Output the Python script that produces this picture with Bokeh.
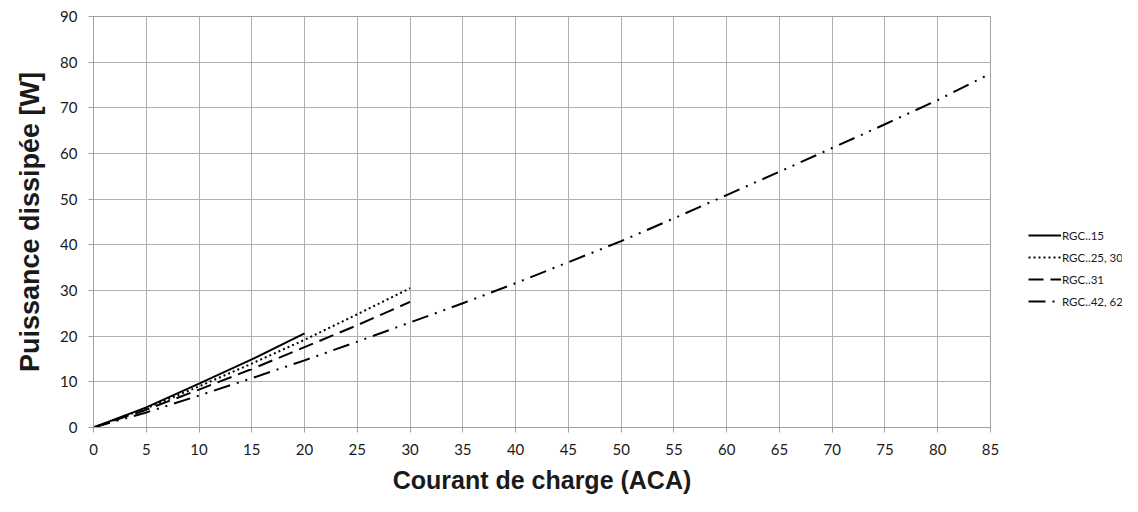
from bokeh.plotting import figure
from bokeh.layouts import row
from bokeh.models import Legend, LegendItem, Range1d, FixedTicker
from bokeh.embed import file_html
from bokeh.resources import INLINE

# Data
x_15 = [0, 5, 10, 15, 20]
y_15 = [0, 4.4, 9.6, 14.9, 20.6]
x_25 = [0, 5, 10, 15, 20, 25, 30]
y_25 = [0, 4.2, 9.0, 14.0, 19.2, 24.8, 30.5]
x_31 = [0, 5, 10, 15, 20, 25, 30]
y_31 = [0, 3.9, 8.3, 12.8, 17.6, 22.4, 27.5]
x_42 = [0, 5, 10, 15, 20, 25, 30, 35, 40, 45, 50, 55, 60, 65, 70, 75, 80, 85]
y_42 = [0, 3.3, 7.0, 10.8, 14.7, 18.8, 23.0, 27.2, 31.6, 36.2, 40.8, 45.8, 50.9, 56.0, 61.2, 66.4, 71.7, 77.5]
labels = ["RGC..15", "RGC..25, 30", "RGC..31", "RGC..42, 62"]
x_ticks = list(range(0, 90, 5))
y_ticks = list(range(0, 100, 10))

styles = [dict(line_color="black", line_width=2),
          dict(line_color="black", line_width=2, line_dash="2 3"),
          dict(line_color="black", line_width=2, line_dash="15 7"),
          dict(line_color="black", line_width=2, line_dash="17 7 2 7 2 7")]

p = figure(width=1000, height=496, output_backend="svg", toolbar_location=None,
           x_range=Range1d(0, 85), y_range=Range1d(0, 90),
           min_border_left=93, min_border_right=10, min_border_top=16, min_border_bottom=61)

p.outline_line_color = "#a0a0a0"
p.outline_line_width = 1
for ax in (p.xaxis[0], p.yaxis[0]):
    ax.axis_line_color = "#a0a0a0"
    ax.major_tick_line_color = "#a0a0a0"
    ax.major_tick_out = 5
    ax.major_tick_in = 0
    ax.minor_tick_line_color = None
    ax.major_label_text_font = "Lato"
    ax.major_label_text_font_size = "15px"
    ax.major_label_text_color = "#1a1a1a"
    ax.axis_label_text_font = "Liberation Sans"
    ax.axis_label_text_font_style = "bold"
    ax.axis_label_text_color = "#1a1a1a"

p.xaxis.ticker = FixedTicker(ticks=x_ticks)
p.yaxis.ticker = FixedTicker(ticks=y_ticks)
p.xaxis.axis_label = "Courant de charge (ACA)"
p.yaxis.axis_label = "Puissance dissipée [W]"
p.xaxis.axis_label_text_font_size = "25px"
p.yaxis.axis_label_text_font_size = "27px"
p.xaxis.axis_label_standoff = 8
p.yaxis.axis_label_standoff = 12
p.xaxis.major_label_standoff = 11
p.yaxis.major_label_standoff = 11

p.xgrid.ticker = FixedTicker(ticks=x_ticks)
p.ygrid.ticker = FixedTicker(ticks=y_ticks)
p.xgrid.grid_line_color = "#b0b0b0"
p.ygrid.grid_line_color = "#b0b0b0"

p.line(x_15, y_15, **styles[0])
p.line(x_25, y_25, **styles[1])
p.line(x_31, y_31, **styles[2])
p.line(x_42, y_42, **styles[3])

# Legend panel (to the right of the plot frame); its renderers hold no visible data
pl = figure(width=122, height=496, output_backend="svg", toolbar_location=None,
            x_range=Range1d(0, 1), y_range=Range1d(0, 1),
            x_axis_type=None, y_axis_type=None,
            min_border_left=0, min_border_right=0, min_border_top=0, min_border_bottom=0)
pl.outline_line_color = None
pl.xgrid.visible = False
pl.ygrid.visible = False
nan = float("nan")
items = []
for lab, st in zip(labels, styles):
    r = pl.line(x=[nan, nan], y=[nan, nan], **st)
    items.append(LegendItem(label=lab, renderers=[r]))

legend = Legend(items=items, location=(28, 119), orientation="vertical",
                border_line_color=None, background_fill_alpha=0,
                label_text_font="Lato", label_text_font_size="11.5px",
                label_text_color="#1a1a1a",
                glyph_width=33, glyph_height=14, spacing=8, padding=0, margin=0,
                label_standoff=1, label_height=14)
pl.add_layout(legend, "center")

layout = row(p, pl)
open("out.html", "w").write(file_html(layout, INLINE))
